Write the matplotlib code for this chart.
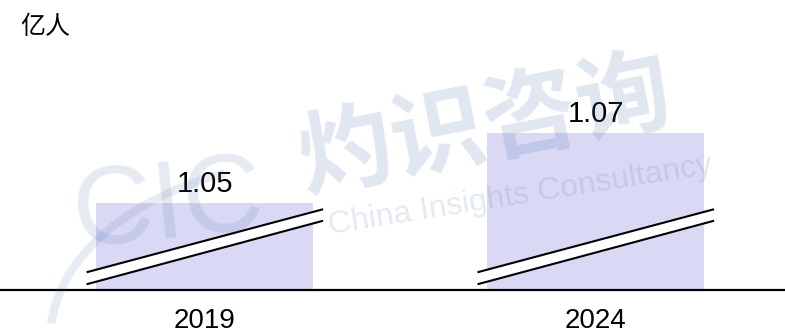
import matplotlib
matplotlib.use("Agg")
import matplotlib.pyplot as plt
from matplotlib.transforms import blended_transform_factory
from matplotlib.patches import Polygon, Arc
import numpy as np

categories = ["2019", "2024"]
values = [1.05, 1.07]
value_labels = ["1.05", "1.07"]
unit_label = "亿人"

plt.rcParams['font.family'] = ['Liberation Sans', 'Noto Sans CJK SC', 'DejaVu Sans']

W, H = 785, 334
fig = plt.figure(figsize=(W/100, H/100), dpi=100)
ax = fig.add_axes([0, (H-290)/H, 1, 250/H])

x = np.arange(len(categories))
bar_color = '#D9D9F6'
ax.bar(x, values, width=0.555, color=bar_color, zorder=2)
ax.set_xlim(-0.524, 1.484)
ax.set_ylim(1.0251, 1.0966)

for xi, v, lab in zip(x, values, value_labels):
    ax.annotate(lab, (xi, v), xytext=(0, 8), textcoords='offset points',
                ha='center', va='baseline', fontsize=21, color='black', zorder=6)

# break marks
tr = blended_transform_factory(ax.transData, ax.transAxes)
for xi in x:
    xl, xr = xi - 0.30, xi + 0.30
    up = (0.072, 0.322)
    lo = (0.024, 0.276)
    poly = Polygon([[xl, up[0]], [xr, up[1]], [xr, lo[1]], [xl, lo[0]]],
                   closed=True, facecolor='white', edgecolor='none',
                   transform=tr, zorder=3, clip_on=False)
    ax.add_patch(poly)
    ax.plot([xl, xr], [up[0], up[1]], color='black', lw=1.5, transform=tr, zorder=4, clip_on=False)
    ax.plot([xl, xr], [lo[0], lo[1]], color='black', lw=1.5, transform=tr, zorder=4, clip_on=False)

for s in ['top', 'right', 'left']:
    ax.spines[s].set_visible(False)
ax.spines['bottom'].set_linewidth(1.6)
ax.spines['bottom'].set_zorder(5)
ax.set_yticks([])
ax.set_xticks(x)
ax.set_xticklabels(categories, fontsize=20)
ax.tick_params(axis='x', length=0, pad=13)
ax.set_facecolor('none')

fig.text(20/W, 1 - 27/H, unit_label, fontsize=18, ha='left', va='center',
         family=['Noto Sans CJK SC', 'DejaVu Sans'], style='italic')

# watermark
wm = '#4a6fa5'
fig.text(485/W, 1 - 128/H, "灼识咨询", fontsize=68, color=wm, alpha=0.17,
         ha='center', va='center', rotation=11, family=['Noto Sans CJK SC'],
         fontweight='bold', zorder=10)
fig.text(520/W, 1 - 196/H, "China Insights Consultancy", fontsize=23, color=wm, alpha=0.15,
         ha='center', va='center', rotation=9, zorder=10)
fig.text(168/W, 1 - 208/H, "CIC", fontsize=80, color=wm, alpha=0.14,
         ha='center', va='center', rotation=6, zorder=10)
arc = Arc((330/W, 1 - 340/H), 560/W, 360/H, theta1=105, theta2=172,
          transform=fig.transFigure, color=wm, alpha=0.13, lw=6, zorder=10)
fig.add_artist(arc)

fig.savefig('out.png', dpi=100)
